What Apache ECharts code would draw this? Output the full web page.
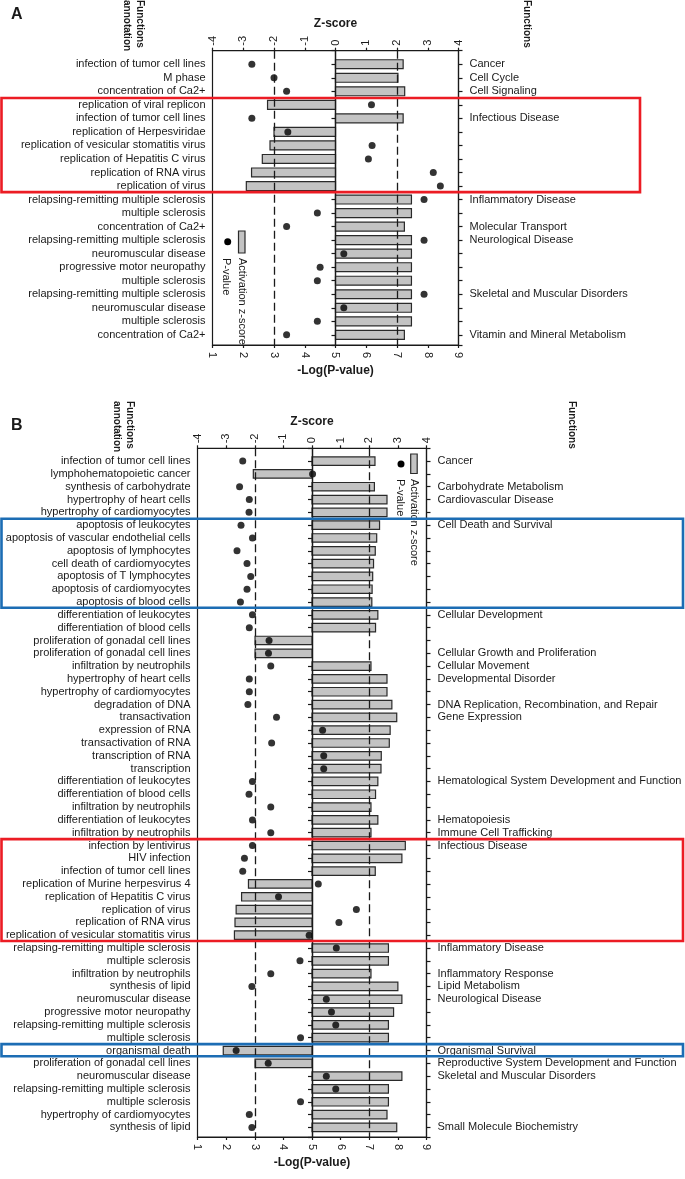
<!DOCTYPE html>
<html><head><meta charset="utf-8">
<script src="https://cdn.jsdelivr.net/npm/echarts@6/dist/echarts.min.js"></script>
<style>html,body{margin:0;padding:0;background:#fff}#c{width:685px;height:1179px}</style>
</head><body><div id="c"></div>
<script>
// ---------- Panel A data ----------
const A_labels = ["infection of tumor cell lines","M phase","concentration of Ca2+","replication of viral replicon","infection of tumor cell lines","replication of Herpesviridae","replication of vesicular stomatitis virus","replication of Hepatitis C virus","replication of RNA virus","replication of virus","relapsing-remitting multiple sclerosis","multiple sclerosis","concentration of Ca2+","relapsing-remitting multiple sclerosis","neuromuscular disease","progressive motor neuropathy","multiple sclerosis","relapsing-remitting multiple sclerosis","neuromuscular disease","multiple sclerosis","concentration of Ca2+"];
const A_functions = ["Cancer","Cell Cycle","Cell Signaling","","Infectious Disease","","","","","","Inflammatory Disease","","Molecular Transport","Neurological Disease","","","","Skeletal and Muscular Disorders","","","Vitamin and Mineral Metabolism"];
const A_logp = [7.2,7.03,7.25,2.79,7.2,3.0,2.87,2.62,2.27,2.1,7.47,7.47,7.24,7.47,7.47,7.47,7.47,7.47,7.47,7.47,7.24];
const A_z = [-2.72,-2.0,-1.59,1.17,-2.72,-1.55,1.19,1.07,3.18,3.41,2.88,-0.59,-1.59,2.88,0.27,-0.5,-0.59,2.88,0.27,-0.59,-1.59];

// ---------- Panel B data ----------
const B_labels = ["infection of tumor cell lines","lymphohematopoietic cancer","synthesis of carbohydrate","hypertrophy of heart cells","hypertrophy of cardiomyocytes","apoptosis of leukocytes","apoptosis of vascular endothelial cells","apoptosis of lymphocytes","cell death of cardiomyocytes","apoptosis of T lymphocytes","apoptosis of cardiomyocytes","apoptosis of blood cells","differentiation of leukocytes","differentiation of blood cells","proliferation of gonadal cell lines","proliferation of gonadal cell lines","infiltration by neutrophils","hypertrophy of heart cells","hypertrophy of cardiomyocytes","degradation of DNA","transactivation","expression of RNA","transactivation of RNA","transcription of RNA","transcription","differentiation of leukocytes","differentiation of blood cells","infiltration by neutrophils","differentiation of leukocytes","infiltration by neutrophils","infection by lentivirus","HIV infection","infection of tumor cell lines","replication of Murine herpesvirus 4","replication of Hepatitis C virus","replication of virus","replication of RNA virus","replication of vesicular stomatitis virus","relapsing-remitting multiple sclerosis","multiple sclerosis","infiltration by neutrophils","synthesis of lipid","neuromuscular disease","progressive motor neuropathy","relapsing-remitting multiple sclerosis","multiple sclerosis","organismal death","proliferation of gonadal cell lines","neuromuscular disease","relapsing-remitting multiple sclerosis","multiple sclerosis","hypertrophy of cardiomyocytes","synthesis of lipid"];
const B_functions = ["Cancer","","Carbohydrate Metabolism","Cardiovascular Disease","","Cell Death and Survival","","","","","","","Cellular Development","","","Cellular Growth and Proliferation","Cellular Movement","Developmental Disorder","","DNA Replication, Recombination, and Repair","Gene Expression","","","","","Hematological System Development and Function","","","Hematopoiesis","Immune Cell Trafficking","Infectious Disease","","","","","","","","Inflammatory Disease","","Inflammatory Response","Lipid Metabolism","Neurological Disease","","","","Organismal Survival","Reproductive System Development and Function","Skeletal and Muscular Disorders","","","","Small Molecule Biochemistry"];
const B_logp = [7.2,2.95,7.18,7.62,7.62,7.36,7.26,7.21,7.15,7.12,7.1,7.09,7.3,7.22,3.01,3.01,7.06,7.62,7.62,7.79,7.96,7.73,7.7,7.42,7.41,7.3,7.22,7.06,7.3,7.06,8.26,8.14,7.21,2.78,2.54,2.35,2.31,2.29,7.67,7.67,7.06,8.0,8.14,7.85,7.67,7.67,1.9,3.01,8.14,7.67,7.67,7.62,7.96];
const B_z = [-2.42,0.02,-2.53,-2.19,-2.2,-2.48,-2.08,-2.62,-2.27,-2.14,-2.27,-2.5,-2.08,-2.19,-1.5,-1.52,-1.44,-2.19,-2.19,-2.24,-1.24,0.37,-1.41,0.41,0.41,-2.08,-2.2,-1.44,-2.08,-1.44,-2.08,-2.36,-2.42,0.22,-1.17,1.55,0.94,-0.1,0.85,-0.42,-1.44,-2.1,0.5,0.68,0.83,-0.4,-2.65,-1.53,0.5,0.83,-0.4,-2.19,-2.1];

// axis scales
const LOGP_MIN = 1, LOGP_MAX = 9, BAR_BASE = 5;
const Z_MIN = -4, Z_MAX = 4, Z_THRESH = 2;

// highlighted row ranges [panel, firstRow, lastRow, color, rightEdge]
const highlights = [
  ['A', 3, 9, '#ec1c24', 640],
  ['B', 5, 11, '#1c6db4', 683],
  ['B', 30, 37, '#ec1c24', 683],
  ['B', 46, 46, '#1c6db4', 683]
];

const FONT = '"Liberation Sans",Arial,sans-serif';
const INK = '#1a1a1a';

const chart = echarts.init(document.getElementById('c'), null, {renderer: 'canvas'});

const lineStyle = {color: INK, width: 1.2};

function yAxes(gi, labels, funcs) {
  const n = labels.length;
  const common = {
    gridIndex: gi, type: 'value', inverse: true, min: -1, max: n - 0.25, interval: 1,
    splitLine: {show: false},
    axisLine: {show: true, lineStyle},
    axisTick: {show: true, inside: false, length: 4, lineStyle}
  };
  return [
    Object.assign({}, common, {position: 'left', axisLabel: {margin: 7, fontFamily: FONT, fontSize: 11, color: INK,
      formatter: v => (Number.isInteger(v) && labels[v]) ? labels[v] : ''}}),
    Object.assign({}, common, {position: 'right', axisLabel: {margin: 11, fontFamily: FONT, fontSize: 11, color: INK,
      formatter: v => (Number.isInteger(v) && funcs[v]) ? funcs[v] : ''}})
  ];
}
function xAxes(gi) {
  const lab = {rotate: -90, fontFamily: FONT, fontSize: 11, color: INK};
  const nameStyle = {fontFamily: FONT, fontSize: 12, fontWeight: 'bold', color: INK};
  return [
    {gridIndex: gi, type: 'value', position: 'bottom', min: LOGP_MIN, max: LOGP_MAX, interval: 1,
      name: '-Log(P-value)', nameLocation: 'middle', nameGap: 20, nameMoveOverlap: false, nameTextStyle: nameStyle,
      splitLine: {show: false}, axisLine: {show: true, onZero: false, lineStyle},
      axisTick: {show: true, length: 3, lineStyle}, axisLabel: Object.assign({margin: 7}, lab)},
    {gridIndex: gi, type: 'value', position: 'top', min: Z_MIN, max: Z_MAX, interval: 1,
      name: 'Z-score', nameLocation: 'middle', nameGap: 21, nameMoveOverlap: false, nameTextStyle: nameStyle,
      splitLine: {show: false}, axisLine: {show: true, onZero: false, lineStyle},
      axisTick: {show: true, length: 3, lineStyle}, axisLabel: Object.assign({margin: 5}, lab)}
  ];
}

function renderBar(params, api) {
  const v = api.value(0), r = api.value(1);
  const a = api.coord([BAR_BASE, r]), b = api.coord([v, r]);
  const h = api.size([0, 1])[1] * 0.66;
  return {type: 'rect', shape: {x: Math.min(a[0], b[0]), y: a[1] - h / 2, width: Math.abs(b[0] - a[0]), height: h},
    style: {fill: '#c3c3c3', stroke: '#2a2a2a', lineWidth: 1.2}};
}

function panelSeries(xBar, xZ, yi, logp, z) {
  return [
    {type: 'custom', xAxisIndex: xBar, yAxisIndex: yi, z: 1, renderItem: renderBar,
      encode: {x: 0, y: 1}, data: logp.map((v, i) => [v, i])},
    {type: 'scatter', xAxisIndex: xZ, yAxisIndex: yi, z: 3, symbol: 'circle', symbolSize: 7,
      itemStyle: {color: '#000'}, data: z.map((v, i) => [v, i]),
      markLine: {silent: true, symbol: 'none', label: {show: false}, animation: false,
        data: [
          {xAxis: -Z_THRESH, lineStyle: {color: INK, width: 1.3, type: [8, 4]}},
          {xAxis: Z_THRESH, lineStyle: {color: INK, width: 1.3, type: [8, 4]}},
          {xAxis: 0, lineStyle: {color: INK, width: 1.3, type: 'solid'}}
        ]}}
  ];
}

const option = {
  animation: false,
  backgroundColor: '#fff',
  grid: [
    {left: 212.5, right: 685 - 458.5, top: 50.7, height: 294.3, show: true, borderColor: INK, borderWidth: 1.2, containLabel: false, outerBoundsMode: 'none'},
    {left: 197.5, right: 685 - 426.5, top: 448.3, height: 688.7, show: true, borderColor: INK, borderWidth: 1.2, containLabel: false, outerBoundsMode: 'none'}
  ],
  xAxis: [...xAxes(0), ...xAxes(1)],
  yAxis: [...yAxes(0, A_labels, A_functions), ...yAxes(1, B_labels, B_functions)],
  series: [...panelSeries(0, 1, 0, A_logp, A_z), ...panelSeries(2, 3, 2, B_logp, B_z)]
};
chart.setOption(option);

function vtext(x, y, text, size, bold) {
  return {type: 'text', x: x, y: y, rotation: -Math.PI / 2, z: 20,
    style: {text: text, fontFamily: FONT, fontSize: size, fontWeight: bold ? 'bold' : 'normal', fill: INK,
      textAlign: 'left', textVerticalAlign: 'middle'}};
}
const graphics = [
  {type: 'text', x: 11, y: 7, z: 20, style: {text: 'A', fontFamily: FONT, fontSize: 16, fontWeight: 'bold', fill: INK}},
  {type: 'text', x: 11, y: 418, z: 20, style: {text: 'B', fontFamily: FONT, fontSize: 16, fontWeight: 'bold', fill: INK}},
  vtext(140, 0, 'Functions', 10, true), vtext(127, 0, 'annotation', 10, true),
  vtext(527, 0, 'Functions', 10, true),
  vtext(130, 401, 'Functions', 10, true), vtext(117, 401, 'annotation', 10, true),
  vtext(572, 401, 'Functions', 10, true),
  // legend A
  {type: 'circle', z: 20, shape: {cx: 227.7, cy: 241.7, r: 3.5}, style: {fill: '#000'}},
  {type: 'rect', z: 20, shape: {x: 238.5, y: 231, width: 6.5, height: 22}, style: {fill: '#c3c3c3', stroke: '#2a2a2a', lineWidth: 1.2}},
  vtext(241.8, 258, 'Activation z-score', 11, false), vtext(226.5, 258, 'P-value', 11, false),
  // legend B
  {type: 'circle', z: 20, shape: {cx: 401, cy: 464, r: 3.5}, style: {fill: '#000'}},
  {type: 'rect', z: 20, shape: {x: 410.7, y: 454, width: 6.5, height: 19.5}, style: {fill: '#c3c3c3', stroke: '#2a2a2a', lineWidth: 1.2}},
  vtext(414, 479, 'Activation z-score', 11, false), vtext(400, 479, 'P-value', 11, false)
];
highlights.forEach(([p, r0, r1, col, xr]) => {
  const yi = p === 'A' ? 0 : 2;
  const y0 = chart.convertToPixel({yAxisIndex: yi}, r0 - 0.5);
  const y1 = chart.convertToPixel({yAxisIndex: yi}, r1 + 0.45);
  graphics.push({type: 'rect', z: 30, shape: {x: 1.5, y: y0, width: xr - 1.5, height: y1 - y0},
    style: {fill: 'none', stroke: col, lineWidth: 2.6}});
});
chart.setOption({graphic: graphics});
</script>
</body></html>
